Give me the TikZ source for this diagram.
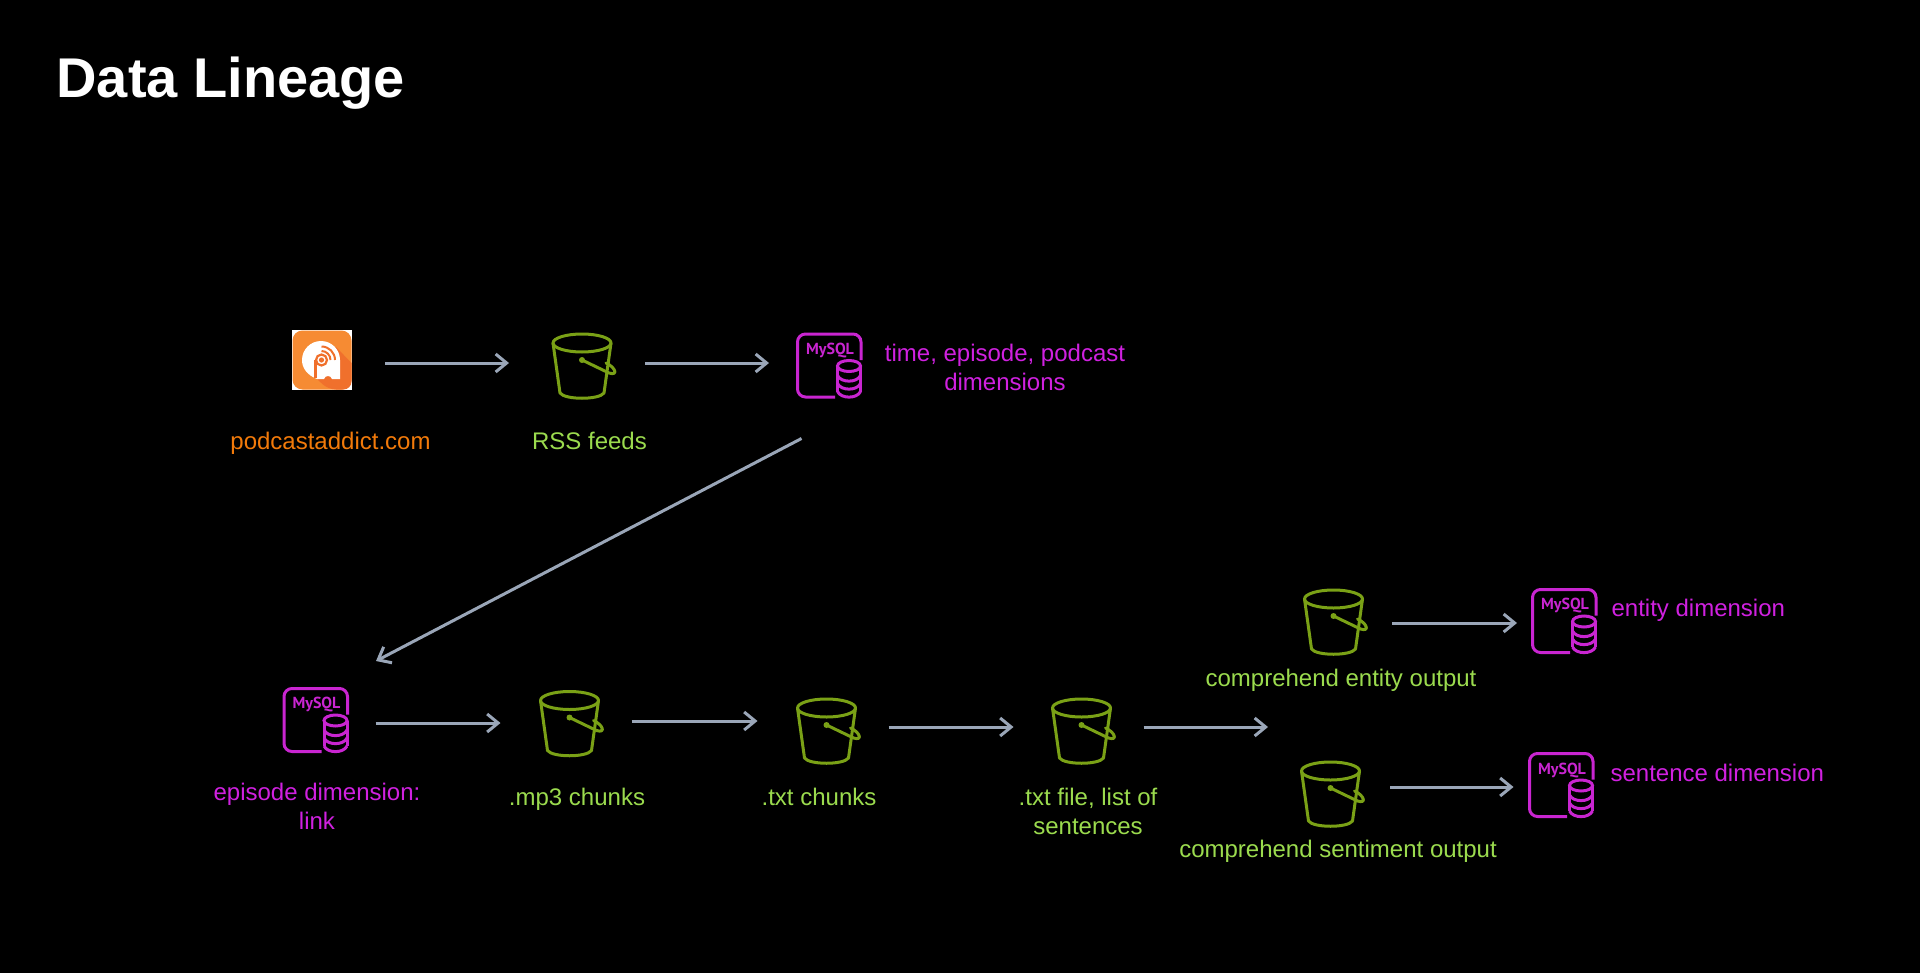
\documentclass[tikz,border=0pt]{standalone}
\usepackage{fontspec}
\setmainfont{Liberation Sans}
\newfontfamily\iconfont{PT Sans}
\usepackage{tikz}
\usetikzlibrary{arrows.meta,positioning}
\definecolor{flowgrey}{HTML}{9AA6B8}
\definecolor{bucketgreen}{HTML}{7AA116}
\definecolor{labelgreen}{HTML}{9BDB4E}
\definecolor{dbmagenta}{HTML}{C925D1}
\definecolor{labelmagenta}{HTML}{D021E0}
\definecolor{labelorange}{HTML}{F27A0A}
\definecolor{addictorange}{HTML}{F68B33}
\definecolor{addictdark}{HTML}{F0702C}

\tikzset{
    flow/.style={draw=flowgrey, line width=1.5pt, -{Straight Barb[length=5.5pt,width=9pt]}},
    iconbox/.style={inner sep=0pt, outer sep=0pt, minimum width=30pt, minimum height=32.5pt},
    dbbox/.style={inner sep=0pt, outer sep=0pt, minimum width=32.5pt, minimum height=32.5pt},
    addictbox/.style={inner sep=0pt, outer sep=0pt, minimum width=30pt, minimum height=30pt, fill=white},
    greenlabel/.style={text=labelgreen, font=\fontsize{12}{14.5}\selectfont, align=center},
    pinklabel/.style={text=labelmagenta, font=\fontsize{12}{14.5}\selectfont, align=center},
    bucket/.pic={
        \begin{scope}[draw=bucketgreen, line width=1.5pt, line join=round, line cap=round]
        \draw (0,-23) ellipse [x radius=29, y radius=9];
        \draw (-29,-23) -- (-22,27) .. controls (-17,34) and (17,34) .. (22,27) -- (29,-23);
        \draw (0,-6) -- (27,7) .. controls (37,10) and (33,1) .. (24,-3);
        \fill[bucketgreen] (0,-6) circle (1.5pt);
        \end{scope}
    },
    mysql/.pic={
        \begin{scope}[draw=dbmagenta, line width=1.5pt]
        \draw[rounded corners=4pt] (31.5,-5.5) -- (31.5,-31.5) -- (-32,-31.5) -- (-32,31.5) -- (5.5,31.5);
        \node[text=dbmagenta, font=\iconfont\bfseries\fontsize{8}{8}\selectfont] at (0.5,-15) {MySQL};
        \draw (19.5,0.5) ellipse [x radius=11.5, y radius=5.5];
        \draw (8,0.5) -- (8,26) (31,0.5) -- (31,26);
        \draw (8,10) .. controls (11.5,17.5) and (27.5,17.5) .. (31,10);
        \draw (8,18) .. controls (11.5,25.5) and (27.5,25.5) .. (31,18);
        \draw (8,26) .. controls (11.5,33.5) and (27.5,33.5) .. (31,26);
        \end{scope}
    },
}

\begin{document}
\begin{tikzpicture}[x=0.5pt, y=-0.5pt]
    % Page
    \fill[black] (0,0) rectangle (1920,973);
    \useasboundingbox (0,0) rectangle (1920,973);

    % Title
    \node[font=\bfseries\fontsize{28}{34}\selectfont, text=white, anchor=west] (title) at (49.5,83) {Data Lineage};

    % Upper row
    \node[addictbox] (podcast) at (322,360) {};
    \begin{scope}[shift={(292,330)}]
        \fill[addictorange, rounded corners=5pt] (0.5,0.5) rectangle (59.5,59.5);
        \fill[addictdark] (44,17) -- (59.5,33) [rounded corners=4pt] -- (59.5,59.5) -- (36,59.5) [sharp corners] -- (22,46) -- cycle;
        \fill[white] (25,49) .. controls (15,45) and (10,38) .. (10,30) arc (180:360:19 and 19) -- (48,49) -- (40,49) .. controls (39,45) and (33,45) .. (32,49) -- cycle;
        \draw[addictdark, line width=1.5pt] (23.5,30) -- (23.5,48);
        \draw[addictdark, line width=1.1pt] (29.5,30) circle (5.5);
        \fill[addictdark] (29.5,30) circle (1.3pt);
        \draw[addictdark, line width=1pt] (29.5,21) arc (-90:0:9 and 9);
        \draw[addictdark, line width=1pt] (29.5,16.5) arc (-90:0:13.5 and 13.5);
    \end{scope}
    \node[iconbox] (rss) at (582,366) {};
    \pic at (rss) {bucket};
    \node[dbbox] (timedb) at (829.5,365.5) {};
    \pic at (timedb) {mysql};

    \node[text=labelorange, font=\fontsize{12}{14.5}\selectfont] (podcastlabel) at (330.5,443.5) {podcastaddict.com};
    \node[greenlabel] (rsslabel) at (589.5,441) {RSS feeds};
    \node[pinklabel] (timelabel) at (1005,367) {time, episode, podcast\\dimensions};

    \draw[flow] ([shift={(33,3)}]podcast.east) -- ([shift={(-43,-3)}]rss.west);
    \draw[flow] ([shift={(33,-3)}]rss.east) -- ([shift={(-28,-2.5)}]timedb.west);

    % Lower row
    \node[dbbox] (episodedb) at (316,720) {};
    \pic at (episodedb) {mysql};
    \node[iconbox] (mpchunks) at (569.5,723.5) {};
    \pic at (mpchunks) {bucket};
    \node[iconbox] (txtchunks) at (826.5,731) {};
    \pic at (txtchunks) {bucket};
    \node[iconbox] (txtfile) at (1081.5,731) {};
    \pic at (txtfile) {bucket};
    \coordinate (split) at (1268,727);

    \node[pinklabel] (episodelabel) at (317,806) {episode dimension:\\link};
    \node[greenlabel] (mplabel) at (577,799.5) {.mp3 chunks};
    \node[greenlabel] (txtlabel) at (819,797) {.txt chunks};
    \node[greenlabel] (filelabel) at (1088,811) {.txt file, list of\\sentences};

    \draw[flow] ([shift={(27,3)}]episodedb.east) -- ([shift={(-39,-0.5)}]mpchunks.west);
    \draw[flow] ([shift={(-28,40.5)}]timedb.south) -- ([shift={(60,-26.5)}]episodedb.north);
    \draw[flow] ([shift={(32,-2.5)}]mpchunks.east) -- ([shift={(-39,-10)}]txtchunks.west);
    \draw[flow] ([shift={(32,-4)}]txtchunks.east) -- ([shift={(-38,-4)}]txtfile.west);
    \draw[flow] ([shift={(32,-4)}]txtfile.east) -- (split);

    % Comprehend outputs
    \node[iconbox] (entity) at (1333.5,622) {};
    \pic at (entity) {bucket};
    \node[dbbox] (entitydb) at (1564.5,621) {};
    \pic at (entitydb) {mysql};
    \node[iconbox] (sentiment) at (1330.5,794) {};
    \pic at (sentiment) {bucket};
    \node[dbbox] (sentencedb) at (1561.5,785) {};
    \pic at (sentencedb) {mysql};

    \node[greenlabel] (entitylabel) at (1341,680.5) {comprehend entity output};
    \node[greenlabel] (sentimentlabel) at (1338,851.5) {comprehend sentiment output};
    \node[pinklabel, anchor=west] (entitydim) at (1604.5,610) {entity dimension};
    \node[pinklabel, anchor=west] (sentencedim) at (1603.5,773) {sentence dimension};

    \draw[flow] ([shift={(28.5,1)}]entity.east) -- ([shift={(-15,2)}]entitydb.west);
    \draw[flow] ([shift={(29.5,-7)}]sentiment.east) -- ([shift={(-15.5,2)}]sentencedb.west);
\end{tikzpicture}
\end{document}
